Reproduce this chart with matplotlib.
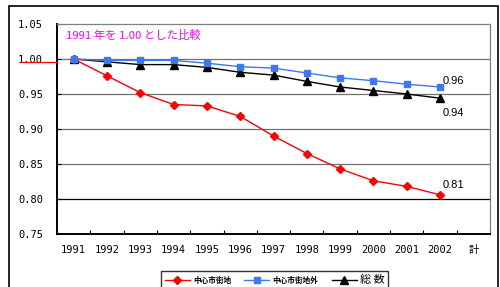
import matplotlib
matplotlib.use("Agg")
import matplotlib.pyplot as plt
from matplotlib.lines import Line2D
from matplotlib.patches import Rectangle

plt.rcParams["font.family"] = ["Noto Sans CJK JP", "DejaVu Sans"]

# categories (last one is the "total" column, no data drawn)
years = ["1991", "1992", "1993", "1994", "1995", "1996", "1997",
         "1998", "1999", "2000", "2001", "2002", "計"]

# index values, 1991 = 1.00
center = [1.000, 0.976, 0.952, 0.935, 0.933, 0.918, 0.890,
          0.865, 0.843, 0.826, 0.818, 0.806]
outside = [1.000, 0.998, 0.998, 0.998, 0.994, 0.989, 0.987,
           0.980, 0.973, 0.969, 0.964, 0.960]
total = [1.000, 0.996, 0.992, 0.992, 0.988, 0.981, 0.977,
         0.968, 0.960, 0.955, 0.950, 0.944]

end_labels = ["0.81", "0.96", "0.94"]

fig = plt.figure(figsize=(5.0, 2.87), dpi=100)
ax = fig.add_axes([57 / 500, 1 - 234 / 287, 433 / 500, 210 / 287])

x = list(range(len(center)))
ax.plot(x, center, color="#ff0000", lw=1.0, marker="D", ms=4.5,
        label="中心市街地", zorder=4)
ax.plot(x, outside, color="#3c78f0", lw=1.0, marker="s", ms=5,
        markerfacecolor="#3c78f0", label="中心市街地外", zorder=4)
ax.plot(x, total, color="black", lw=1.0, marker="^", ms=5.5,
        label="総 数", zorder=3)

ax.set_xlim(-0.5, len(years) - 0.5)
ax.set_ylim(0.75, 1.05)

# horizontal gridlines
for yv in [0.80, 0.85, 0.90, 0.95, 1.00]:
    c = "black" if yv == 0.80 else "#707070"
    ax.axhline(yv, color=c, lw=0.9, zorder=1)

ax.set_yticks([0.75, 0.80, 0.85, 0.90, 0.95, 1.00, 1.05])
ax.set_yticklabels([f"{v:.2f}" for v in ax.get_yticks()],
                   family="DejaVu Sans Mono", fontsize=7.5)
ax.tick_params(axis="y", direction="in", length=3, pad=10, width=0.8)

ax.set_xticks(range(len(years)))
ax.set_xticklabels(years, family=["DejaVu Sans Mono", "Noto Sans CJK JP"],
                   fontsize=7.5)
ax.set_xticks([i - 0.5 for i in range(len(years) + 1)], minor=True)
ax.tick_params(axis="x", which="major", length=0, pad=8)
ax.tick_params(axis="x", which="minor", direction="in", length=3, width=0.8)

for s in ["top", "right"]:
    ax.spines[s].set_color("#808080")
    ax.spines[s].set_linewidth(0.9)
for s in ["left", "bottom"]:
    ax.spines[s].set_color("black")
    ax.spines[s].set_linewidth(1.4)

ax.text(-0.22, 1.041, "1991 年を 1.00 とした比較", color="#ff00ff",
        fontsize=8.2, va="top", ha="left")

last = len(center) - 1
ax.annotate(end_labels[0], (last, center[-1]), xytext=(2, 5),
            textcoords="offset points", fontsize=8, family="Liberation Sans")
ax.annotate(end_labels[1], (last, outside[-1]), xytext=(2, 2),
            textcoords="offset points", fontsize=8, family="Liberation Sans")
ax.annotate(end_labels[2], (last, total[-1]), xytext=(2, -13),
            textcoords="offset points", fontsize=8, family="Liberation Sans")

# outer frame
fig.patches.append(Rectangle((9 / 500, -0.1), 489 / 500, 1.1 - 6.5 / 287,
                             transform=fig.transFigure, fill=False,
                             edgecolor="black", lw=1.2))
# short red mark left of the 1.00 line
fig.lines.append(Line2D([21 / 500, 57 / 500], [1 - 62 / 287, 1 - 62 / 287],
                        transform=fig.transFigure, color="#ff0000", lw=0.9))

handles, labels = ax.get_legend_handles_labels()
leg = fig.legend(handles, labels, loc="upper left",
                 bbox_to_anchor=(157 / 500, 1 - 267 / 287), ncol=3,
                 frameon=True, fancybox=False, edgecolor="black",
                 fontsize=6, handlelength=3, columnspacing=1.6,
                 borderpad=0.4, handletextpad=0.4)
leg.get_frame().set_linewidth(1.0)
for t in leg.get_texts()[:2]:
    t.set_fontweight("bold")
    t.set_fontsize(5.5)
leg.get_texts()[2].set_fontsize(8)

fig.savefig("out.png", dpi=100)
